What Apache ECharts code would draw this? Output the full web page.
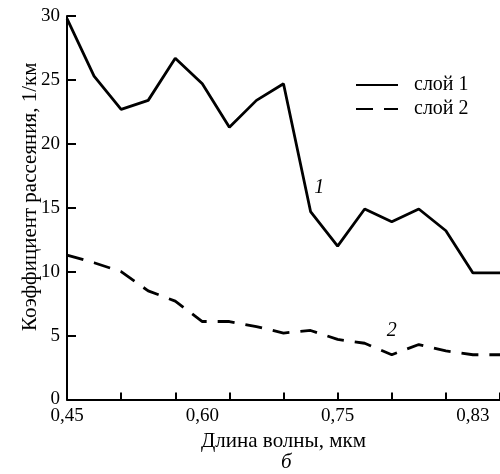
<!DOCTYPE html>
<html>
<head>
<meta charset="utf-8">
<script src="https://cdn.jsdelivr.net/npm/echarts@6/dist/echarts.min.js"></script>
<style>
html,body{margin:0;padding:0;background:#fff;}
#chart{width:500px;height:474px;}
</style>
</head>
<body>
<div id="chart"></div>
<script>
// sample positions along the wavelength axis (in axis-tick units)
const xPositions = [0, 0.5, 1, 1.5, 2, 2.5, 3, 3.5, 4, 4.5, 5, 5.5, 6, 6.5, 7, 7.5, 8];
const layer1 = [29.8, 25.3, 22.7, 23.4, 26.7, 24.7, 21.3, 23.4, 24.7, 14.7, 12.0, 14.9, 13.9, 14.9, 13.2, 9.9, 9.9];
const layer2 = [11.3, 10.7, 10.0, 8.5, 7.7, 6.1, 6.1, 5.7, 5.2, 5.4, 4.7, 4.4, 3.5, 4.3, 3.8, 3.5, 3.5];
const seriesNames = ['слой 1', 'слой 2'];
const xTickLabels = ['0,45', '0,60', '0,75', '0,83'];
const xTickLabelAt = [0, 2.5, 5, 7.5];
const curveTags = [{ text: '1', x: 4.66, y: 16.6 }, { text: '2', x: 6.0, y: 5.4 }];

const FONT = '"Liberation Serif", "DejaVu Serif", serif';
const chart = echarts.init(document.getElementById('chart'), null, { renderer: 'canvas' });

function pairs(ys) { return xPositions.map((x, i) => [x, ys[i]]); }

function tag(t) {
  return {
    symbol: 'circle', symbolSize: 1, silent: true,
    itemStyle: { color: 'rgba(0,0,0,0)' },
    label: { show: true, position: 'inside', fontFamily: FONT, fontStyle: 'italic', fontSize: 20, color: '#000', formatter: t.text },
    data: [{ name: t.text, coord: [t.x, t.y] }]
  };
}

const option = {
  backgroundColor: '#fff',
  animation: false,
  textStyle: { fontFamily: FONT, color: '#000' },
  grid: { left: 67, right: -2, top: 16, bottom: 74.5, containLabel: false },
  legend: {
    orient: 'vertical',
    left: 350, top: 70,
    itemWidth: 42, itemHeight: 14, itemGap: 4,
    itemStyle: { opacity: 0 },
    textStyle: { fontFamily: FONT, fontSize: 20, lineHeight: 14, color: '#000', padding: [0, 0, 0, 11] },
    data: seriesNames
  },
  xAxis: [
    {
      type: 'value', position: 'bottom', min: 0, max: 8, interval: 1,
      name: 'Длина волны, мкм', nameLocation: 'middle', nameGap: 31,
      nameTextStyle: { fontFamily: FONT, fontSize: 21, color: '#000' },
      axisLine: { show: true, onZero: false, lineStyle: { color: '#000', width: 2 } },
      axisTick: { show: true, inside: true, length: 7, lineStyle: { color: '#000', width: 2 } },
      axisLabel: { show: false },
      splitLine: { show: false }
    },
    {
      type: 'value', position: 'bottom', min: 0, max: 8, interval: 2.5,
      axisLine: { show: false }, axisTick: { show: false }, splitLine: { show: false },
      axisLabel: {
        show: true, margin: 7, fontFamily: FONT, fontSize: 19, color: '#000',
        showMaxLabel: false,
        formatter: function (v) {
          const k = xTickLabelAt.findIndex(p => Math.abs(p - v) < 1e-6);
          return k >= 0 ? xTickLabels[k] : '';
        }
      }
    }
  ],
  yAxis: {
    type: 'value', min: 0, max: 30, interval: 5,
    name: 'Коэффициент рассеяния, 1/км', nameLocation: 'middle', nameGap: 26,
    nameMoveOverlap: false,
    nameTextStyle: { fontFamily: FONT, fontSize: 21, color: '#000', padding: [0, 0, 0, 22] },
    axisLine: { show: true, lineStyle: { color: '#000', width: 2 } },
    axisTick: { show: true, inside: true, length: 9, lineStyle: { color: '#000', width: 2 } },
    axisLabel: { margin: 7, fontFamily: FONT, fontSize: 19, color: '#000' },
    splitLine: { show: false }
  },
  series: [
    {
      name: seriesNames[0], type: 'line', xAxisIndex: 0, data: pairs(layer1),
      symbol: 'none', lineStyle: { color: '#000', width: 2.8, type: 'solid' },
      itemStyle: { color: '#000' },
      markPoint: tag(curveTags[0])
    },
    {
      name: seriesNames[1], type: 'line', xAxisIndex: 0, data: pairs(layer2),
      symbol: 'none', lineStyle: { color: '#000', width: 2.8, type: [17, 11] },
      itemStyle: { color: '#000' },
      markPoint: tag(curveTags[1])
    }
  ],
  graphic: [
    {
      type: 'text', left: 281, top: 452,
      style: { text: 'б', fontFamily: FONT, fontStyle: 'italic', fontSize: 21, fill: '#000' }
    }
  ]
};
chart.setOption(option);
</script>
</body>
</html>
